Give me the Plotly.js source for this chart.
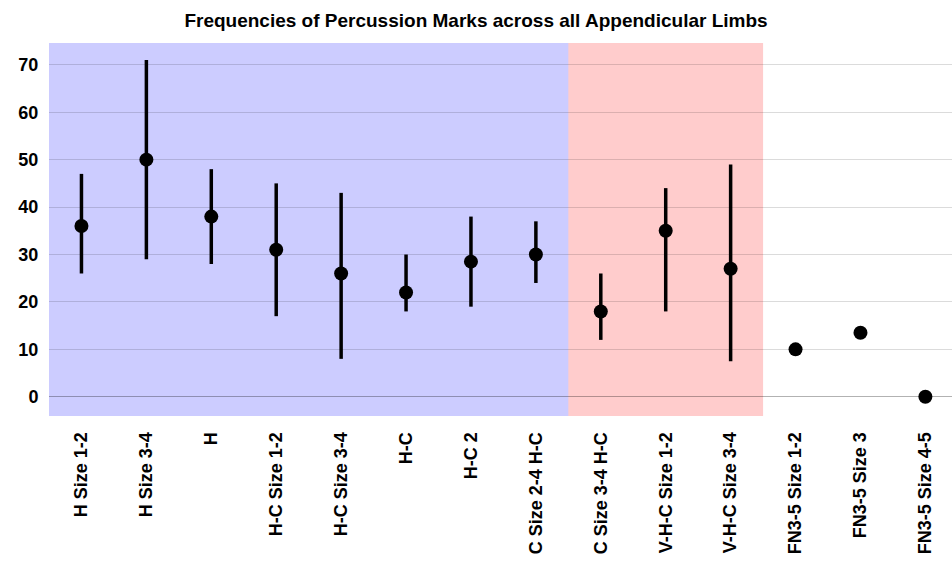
<!DOCTYPE html>
<html>
<head>
<meta charset="utf-8">
<script src="https://cdn.plot.ly/plotly-3.0.1.min.js"></script>
<style>html,body{margin:0;padding:0;background:#fff;}#chart{width:952px;height:579px;}</style>
</head>
<body>
<div id="chart"></div>
<script>
const categories = ["H Size 1-2","H Size 3-4","H","H-C Size 1-2","H-C Size 3-4","H-C","H-C 2","C Size 2-4 H-C","C Size 3-4 H-C","V-H-C Size 1-2","V-H-C Size 3-4","FN3-5 Size 1-2","FN3-5 Size 3","FN3-5 Size 4-5"];
const values = [36, 50, 38, 31, 26, 22, 28.5, 30, 18, 35, 27, 10, 13.5, 0];
const highs  = [47, 71, 48, 45, 43, 30, 38, 37, 26, 44, 49, null, null, null];
const lows   = [26, 29, 28, 17, 8, 18, 19, 24, 12, 18, 7.5, null, null, null];
const bands = [
  {from: 0, to: 7, color: "#ccccff"},
  {from: 8, to: 10, color: "#ffcccc"}
];

const errPlus = values.map((v,i)=> highs[i]==null ? 0 : highs[i]-v);
const errMinus = values.map((v,i)=> lows[i]==null ? 0 : v-lows[i]);
const xIdx = categories.map((c,i)=>i);

const trace = {
  type: "scatter",
  mode: "markers",
  x: xIdx,
  y: values,
  marker: {color: "#000", size: 14},
  error_y: {type: "data", symmetric: false, array: errPlus, arrayminus: errMinus, color: "#000", thickness: 3.5, width: 0},
  hoverinfo: "x+y"
};

const shapes = bands.map((b, i) => ({
  type: "rect", layer: "below", xref: "x", yref: "paper",
  x0: b.from - 0.5, x1: b.to + 0.5 + (i === 0 ? 0.03 : 0), y0: 0, y1: 1,
  fillcolor: b.color, line: {width: 0}
}));

const font = {family: "Liberation Sans, Arial, sans-serif", size: 18, color: "#000", weight: "bold"};

const layout = {
  width: 952, height: 579,
  margin: {l: 49, r: 0, t: 43, b: 163},
  paper_bgcolor: "#fff", plot_bgcolor: "rgba(0,0,0,0)",
  title: {text: "<b>Frequencies of Percussion Marks across all Appendicular Limbs</b>", font: {family: "Liberation Sans, Arial, sans-serif", size: 19, color: "#000"}, x: 0.5, xanchor: "center", y: 0.965, yanchor: "middle"},
  showlegend: false,
  xaxis: {
    range: [-0.5, 13.41], tickmode: "array", tickvals: xIdx, ticktext: categories,
    tickangle: -90, tickfont: font, showgrid: false, zeroline: false, showline: false,
    ticks: "outside", ticklen: 8, tickcolor: "rgba(0,0,0,0)", fixedrange: true
  },
  yaxis: {
    range: [-4.05, 74.6], tickvals: [0,10,20,30,40,50,60,70], tickfont: font,
    showgrid: true, gridcolor: "rgba(0,0,0,0.14)", gridwidth: 1,
    zeroline: true, zerolinecolor: "rgba(0,0,0,0.3)", zerolinewidth: 1,
    showline: false, ticks: "outside", ticklen: 6, tickcolor: "rgba(0,0,0,0)", fixedrange: true
  },
  shapes: shapes
};

Plotly.newPlot("chart", [trace], layout, {displayModeBar: false, staticPlot: true});
</script>
</body>
</html>
